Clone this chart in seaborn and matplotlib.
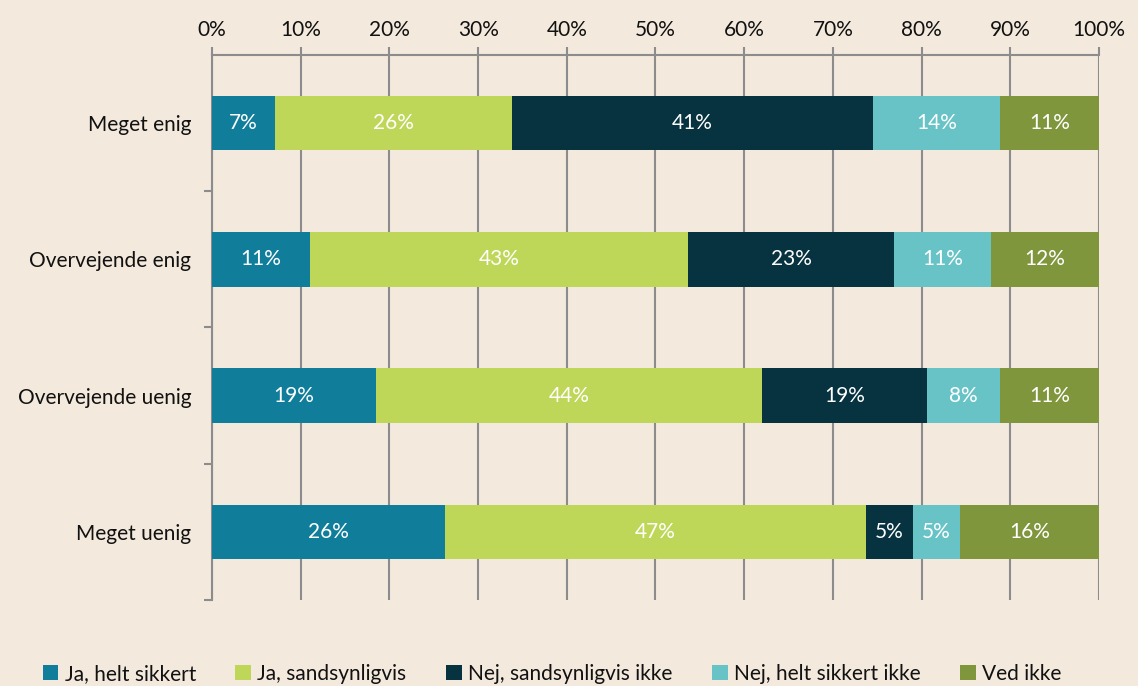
import matplotlib
matplotlib.use("Agg")
import matplotlib.pyplot as plt
import seaborn as sns
import pandas as pd
import numpy as np
from matplotlib.ticker import FixedLocator, PercentFormatter
from matplotlib.patches import Patch

categories = ["Meget enig", "Overvejende enig", "Overvejende uenig", "Meget uenig"]
series = ["Ja, helt sikkert", "Ja, sandsynligvis", "Nej, sandsynligvis ikke",
          "Nej, helt sikkert ikke", "Ved ikke"]
ja_helt = [7.1, 11.0, 18.5, 26.3]
ja_sand = [26.7, 42.7, 43.5, 47.4]
nej_sand = [40.7, 23.2, 18.6, 5.3]
nej_helt = [14.3, 10.9, 8.2, 5.3]
ved_ikke = [11.2, 12.2, 11.2, 15.7]
labels = [["7%", "26%", "41%", "14%", "11%"],
          ["11%", "43%", "23%", "11%", "12%"],
          ["19%", "44%", "19%", "8%", "11%"],
          ["26%", "47%", "5%", "5%", "16%"]]
colors = ["#107E9A", "#BED758", "#06333F", "#68C3C7", "#7F963C"]
xticks = [0, 10, 20, 30, 40, 50, 60, 70, 80, 90, 100]

bg = "#F4E9DD"
sns.set_theme(style="white")
plt.rcParams["font.family"] = ["Lato", "DejaVu Sans"]

df = pd.DataFrame({"Kategori": categories, series[0]: ja_helt, series[1]: ja_sand,
                   series[2]: nej_sand, series[3]: nej_helt, series[4]: ved_ikke})
cum = df[series].cumsum(axis=1)

fig = plt.figure(figsize=(11.38, 6.86), dpi=100, facecolor=bg)
ax = fig.add_axes([0.1863, 0.1254, 0.9657 - 0.1863, 0.9198 - 0.1254])
ax.set_facecolor(bg)

for i in range(len(series) - 1, -1, -1):
    sns.barplot(x=cum[series[i]], y=df["Kategori"], orient="h", color=colors[i],
                width=0.4, saturation=1, ax=ax, zorder=3, edgecolor="none", linewidth=0)

for r in range(len(categories)):
    left = 0
    for j, s in enumerate(series):
        v = df[s][r]
        ax.text(left + v / 2, r, labels[r][j], ha="center", va="center",
                color="white", fontsize=15, zorder=4)
        left += v

ax.set_xlim(0, 100)
ax.set_ylim(3.5, -0.5)
ax.xaxis.set_major_locator(FixedLocator(xticks))
ax.xaxis.set_major_formatter(PercentFormatter(decimals=0))
ax.xaxis.tick_top()
ax.xaxis.set_label_position("top")
ax.set_xlabel("")
ax.set_ylabel("")
ax.grid(axis="x", color="#8C8C8C", linewidth=1.5, zorder=1)
ax.grid(axis="y", visible=False)
ax.tick_params(axis="x", top=True, bottom=False, length=6, width=1.5, color="#8C8C8C",
               labelsize=15, labelcolor="#111111", pad=5)
ax.tick_params(axis="y", which="major", left=False, labelsize=15, labelcolor="#111111", pad=9)
ax.yaxis.set_minor_locator(FixedLocator([0.5, 1.5, 2.5, 3.5]))
ax.tick_params(axis="y", which="minor", left=True, length=6, width=1.5, color="#8C8C8C")

for side in ["right", "bottom"]:
    ax.spines[side].set_visible(False)
for side in ["top", "left"]:
    ax.spines[side].set_visible(True)
    ax.spines[side].set_color("#8C8C8C")
    ax.spines[side].set_linewidth(1.5)

handles = [Patch(facecolor=c, edgecolor="none") for c in colors]
fig.legend(handles, series, loc="center", bbox_to_anchor=(0.485, 0.018), ncol=5,
           frameon=False, fontsize=15, handlelength=0.75, handleheight=0.75,
           handletextpad=0.3, columnspacing=1.9, labelcolor="#111111")

fig.savefig("out.png", dpi=100, facecolor=bg)
